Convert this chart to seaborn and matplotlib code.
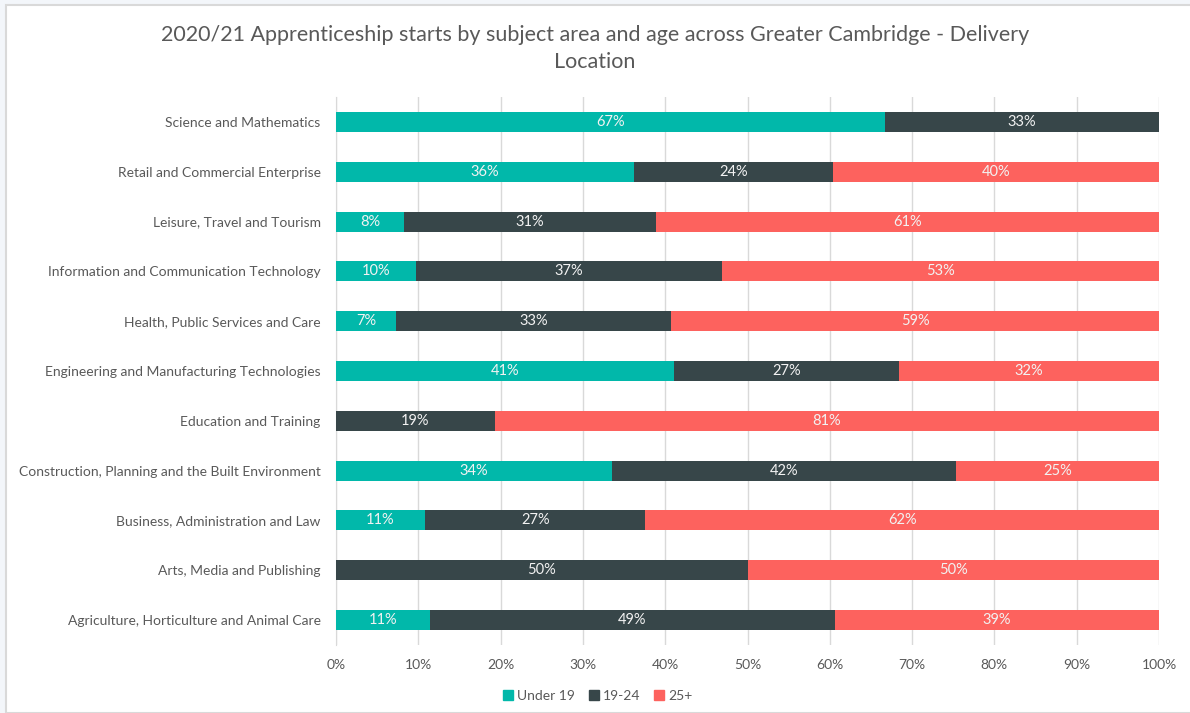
import matplotlib.pyplot as plt
import matplotlib.patches as mpatches
import pandas as pd
import seaborn as sns

subjects = [
    "Science and Mathematics",
    "Retail and Commercial Enterprise",
    "Leisure, Travel and Tourism",
    "Information and Communication Technology",
    "Health, Public Services and Care",
    "Engineering and Manufacturing Technologies",
    "Education and Training",
    "Construction, Planning and the Built Environment",
    "Business, Administration and Law",
    "Arts, Media and Publishing",
    "Agriculture, Horticulture and Animal Care",
]
under_19 = [66.7, 36.2, 8.3, 9.7, 7.3, 41.1, 0.0, 33.5, 10.8, 0.0, 11.4]
age_19_24 = [33.3, 24.2, 30.6, 37.2, 33.4, 27.3, 19.3, 41.8, 26.8, 50.0, 49.2]
age_25_plus = [0.0, 39.6, 61.1, 53.1, 59.3, 31.6, 80.7, 24.7, 62.4, 50.0, 39.4]

series_names = ["Under 19", "19-24", "25+"]
colors = ["#01B8AA", "#374649", "#FD625E"]
grey = "#595959"

df = pd.DataFrame({
    "Subject": subjects,
    "Under 19": under_19,
    "19-24": age_19_24,
    "25+": age_25_plus,
})
df["cum1"] = df["Under 19"]
df["cum2"] = df["Under 19"] + df["19-24"]
df["cum3"] = df["cum2"] + df["25+"]

plt.rcParams["font.family"] = ["Lato", "DejaVu Sans"]

fig = plt.figure(figsize=(11.9, 7.13), dpi=100)
fig.patch.set_facecolor("#F3F6FA")
# white card with a thin grey frame
fig.add_artist(mpatches.Rectangle((6 / 1190, 0), 1.0, 1 - 5 / 713, transform=fig.transFigure,
                                  facecolor="white", edgecolor="#D9D9D9", linewidth=1.5, zorder=0))

ax = fig.add_axes([336 / 1190, 1 - 645 / 713, 823 / 1190, 548 / 713])
ax.set_facecolor("none")

# stacked bars: draw cumulative totals back to front
for col, color in zip(["cum3", "cum2", "cum1"], colors[::-1]):
    sns.barplot(data=df, x=col, y="Subject", order=subjects, color=color,
                width=0.4, orient="h", saturation=1, ax=ax, zorder=3)

# segment labels
for i, row in df.iterrows():
    left = 0.0
    for name in series_names:
        v = row[name]
        if v > 0:
            ax.text(left + v / 2, i, f"{v:.0f}%", ha="center", va="center",
                    color="#F2F2F2", fontsize=10.5, zorder=5)
        left += v

ax.set_xlim(0, 100)
ax.set_ylim(len(subjects) - 0.5, -0.5)
ax.set_xticks(range(0, 101, 10))
ax.set_xticklabels([f"{t}%" for t in range(0, 101, 10)])
ax.set_xlabel("")
ax.set_ylabel("")
ax.grid(True, axis="x", color="#D9D9D9", linewidth=1, zorder=0)
ax.set_axisbelow(True)
for s in ["top", "right", "bottom"]:
    ax.spines[s].set_visible(False)
ax.spines["left"].set_color("#D9D9D9")
ax.tick_params(axis="both", length=0, colors=grey, labelsize=10)
ax.tick_params(axis="y", pad=11)
ax.tick_params(axis="x", pad=10)

fig.text(0.5, 1 - 35 / 713, "2020/21 Apprenticeship starts by subject area and age across Greater Cambridge - Delivery",
         ha="center", va="center", fontsize=15.5, color=grey)
fig.text(0.5, 1 - 62 / 713, "Location", ha="center", va="center", fontsize=15.5, color=grey)

handles = [mpatches.Patch(color=c, label=n) for c, n in zip(colors, series_names)]
fig.legend(handles=handles, loc="center", bbox_to_anchor=(598 / 1190, 1 - 696 / 713), ncol=3,
           frameon=False, fontsize=10, labelcolor=grey, handlelength=0.7, handleheight=0.7,
           handletextpad=0.3, columnspacing=1.0)

fig.savefig("out.png", dpi=100)
